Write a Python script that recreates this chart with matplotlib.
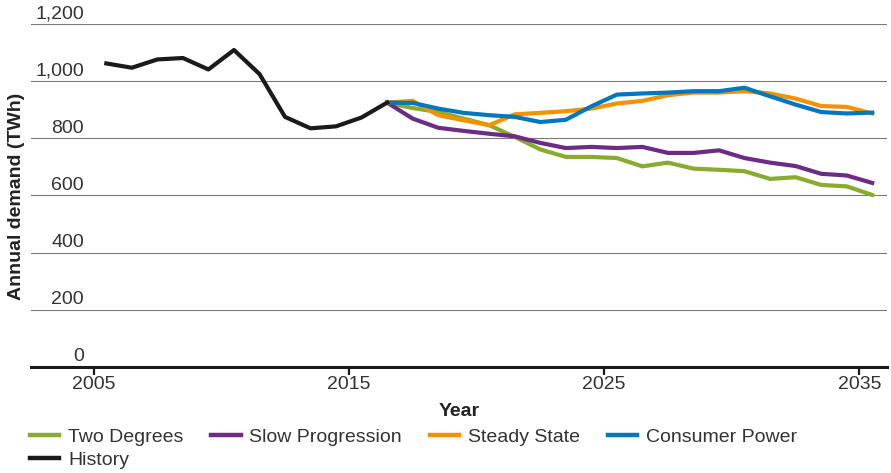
import numpy as np
import matplotlib.pyplot as plt
import matplotlib.transforms as mtransforms
from matplotlib.lines import Line2D

plt.rcParams['font.family'] = ['Liberation Sans', 'DejaVu Sans']

# data (TWh), values are for financial years, plotted mid-year
hist_years = np.arange(2005, 2017)
history = [1062, 1047, 1076, 1081, 1041, 1109, 1025, 875, 835, 842, 873, 925]

scen_years = np.arange(2016, 2036)
two_degrees = [925, 906, 892, 869, 846, 805, 761, 735, 735, 731,
               702, 715, 694, 690, 685, 658, 664, 637, 632, 602]
slow_progression = [925, 869, 837, 826, 816, 807, 784, 766, 770, 766,
                    770, 749, 749, 758, 731, 715, 703, 676, 670, 644]
steady_state = [925, 931, 881, 863, 846, 884, 889, 895, 904, 922,
                931, 951, 960, 960, 965, 957, 939, 913, 910, 887]
consumer_power = [925, 924, 904, 889, 881, 875, 857, 865, 912, 953,
                  957, 960, 965, 965, 977, 947, 918, 892, 887, 890]

yticks = [0, 200, 400, 600, 800, 1000, 1200]
xticks = [2005, 2015, 2025, 2035]

colors = {
    'Two Degrees': '#8aaa30',
    'Slow Progression': '#6b2c85',
    'Steady State': '#f39200',
    'Consumer Power': '#0077c0',
    'History': '#1a1a1a',
}

fig = plt.figure(figsize=(8.91, 4.73), dpi=100)
ax = fig.add_axes([31/891, 1-367/473, 856/891, 343/473])

lw = 3.0
lines = {}
for name, vals in [('Two Degrees', two_degrees), ('Slow Progression', slow_progression),
                   ('Steady State', steady_state), ('Consumer Power', consumer_power)]:
    lines[name], = ax.plot(scen_years + 0.5, vals, color=colors[name], lw=lw,
                           solid_joinstyle='round', label=name)
lines['History'], = ax.plot(hist_years + 0.5, history, color=colors['History'], lw=lw,
                            solid_joinstyle='round', label='History')

ax.set_xlim(2002.55, 2036.08)
ax.set_ylim(0, 1200)

# gridlines with labels sitting on top of them
ax.set_yticks(yticks)
ax.tick_params(axis='y', length=0, labelleft=False)
ax.grid(axis='y', color='#7a7a7a', lw=0.8)
ax.set_axisbelow(True)
trans = mtransforms.blended_transform_factory(ax.transAxes, ax.transData)
for v in yticks:
    ax.text(0.062, v + 6, f'{v:,}', transform=trans, ha='right', va='bottom',
            fontsize=14, color='#333333', clip_on=False)

for s in ['top', 'right', 'left']:
    ax.spines[s].set_visible(False)
ax.spines['bottom'].set_linewidth(2.2)
ax.spines['bottom'].set_color('#1a1a1a')
ax.spines['bottom'].set_zorder(5)

ax.set_xticks(xticks)
ax.tick_params(axis='x', length=5.5, width=1.6, color='#1a1a1a', pad=1,
               labelsize=14, labelcolor='#333333')

ax.set_xlabel('Year', fontsize=14, fontweight='bold', color='#222222', labelpad=7)
fig.text(17/891, 1-196/473, 'Annual demand (TWh)', rotation=90, fontsize=14,
         fontweight='bold', color='#222222', ha='center', va='center')

# legend rows: four scenarios, then history
order = ['Two Degrees', 'History', 'Slow Progression', 'Steady State', 'Consumer Power']
handles = [Line2D([], [], color=colors[n], lw=3.2) for n in order]
fig.legend(handles, order, loc='upper left', bbox_to_anchor=(30/891, 1-428/473),
           ncol=4, frameon=False, fontsize=14, handlelength=1.5, handletextpad=0.45,
           columnspacing=1.45, labelspacing=0.3, borderpad=0, borderaxespad=0,
           labelcolor='#333333')

fig.savefig('out.png', dpi=100)
